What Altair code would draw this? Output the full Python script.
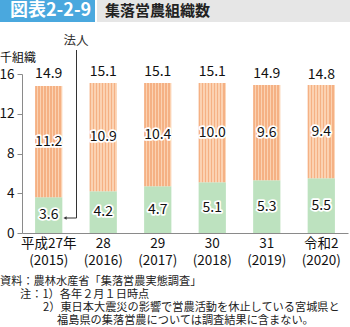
import altair as alt
import pandas as pd

years = ["平成27年|(2015)", "28|(2016)", "29|(2017)", "30|(2018)", "31|(2019)", "令和2|(2020)"]
houjin = [3.6, 4.2, 4.7, 5.1, 5.3, 5.5]
other = [11.2, 10.9, 10.4, 10.0, 9.6, 9.4]
totals = [14.9, 15.1, 15.1, 15.1, 14.9, 14.8]
y_ticks = [0, 4, 8, 12, 16]

FONT = "Noto Sans CJK JP"
ORANGE = "#f5b184"
ORANGE_L = "#fbd2b2"
GREEN = "#bde2bf"

rows = []
for i, y in enumerate(years):
    rows.append({"year": y, "cat": "法人", "value": houjin[i], "order": 0})
    rows.append({"year": y, "cat": "その他", "value": other[i], "order": 1})
df = pd.DataFrame(rows)
tot_df = pd.DataFrame({"year": years, "total": totals})
one = pd.DataFrame({"a": [0]})

# vertical stripes via a linear gradient
stops = []
n = 9
for k in range(n):
    a = k / n
    b = (k + 0.55) / n
    c = (k + 1) / n
    stops += [alt.GradientStop(offset=a, color=ORANGE), alt.GradientStop(offset=b, color=ORANGE),
              alt.GradientStop(offset=b, color=ORANGE_L), alt.GradientStop(offset=c, color=ORANGE_L)]
stripe = alt.Gradient(gradient="linear", stops=stops, x1=0, x2=1, y1=0, y2=0)

xscale = alt.Scale(domain=years, paddingInner=0.5, paddingOuter=0.24)
yscale = alt.Scale(domain=[0, 16], nice=False)

xaxis = alt.Axis(title=None, labelExpr="split(datum.value, '|')", labelAngle=0,
                 ticks=False, domainColor="#8a8a8a", labelFont=FONT, labelFontSize=13.5,
                 labelColor="#111", labelPadding=3, labelLineHeight=17)
yaxis = alt.Axis(title=None, values=y_ticks, grid=False, domainColor="#8a8a8a",
                 tickColor="#8a8a8a", tickSize=5, labelFont=FONT, labelFontSize=13.5,
                 labelColor="#111", labelPadding=3, labelOverlap=False)

X = alt.X("year:N", scale=xscale, sort=years, axis=xaxis)

def Y(field):
    return alt.Y(field, scale=yscale, axis=yaxis)

base = alt.Chart(df).transform_stack(
    stack="value", groupby=["year"], as_=["y0", "y1"], sort=[alt.SortField("order")]
).transform_calculate(mid="(datum.y0 + datum.y1) / 2")

bars_g = base.transform_filter("datum.cat == '法人'").mark_bar(fill=GREEN).encode(
    x=X, y=Y("y0:Q"), y2="y1:Q",
)
bars_o = base.transform_filter("datum.cat == 'その他'").mark_bar(fill=stripe).encode(
    x=X, y=Y("y0:Q"), y2="y1:Q"
)

halo = base.mark_text(font=FONT, fontSize=14, stroke="white", strokeWidth=3.5,
                      strokeJoin="round", fill="white").encode(
    x=X, y=Y("mid:Q"), text=alt.Text("value:Q", format=".1f"))
lab = base.mark_text(font=FONT, fontSize=14, color="#111").encode(
    x=X, y=Y("mid:Q"), text=alt.Text("value:Q", format=".1f"))

tot = alt.Chart(tot_df).mark_text(font=FONT, fontSize=14, color="#111", dy=-11).encode(
    x=X, y=Y("total:Q"), text=alt.Text("total:Q", format=".1f"))

# header
hdr_blue = alt.Chart(one).mark_rect(color="#4aa8de").encode(
    x=alt.value(-22), x2=alt.value(73), y=alt.value(-74), y2=alt.value(-52))
hdr_gray = alt.Chart(one).mark_rect(color="#e6e6e6").encode(
    x=alt.value(75), x2=alt.value(330), y=alt.value(-74), y2=alt.value(-52))
hdr_t1 = alt.Chart(one).mark_text(text="図表2-2-9", font=FONT, fontSize=18, fontWeight="bold",
                                  color="white", align="left", baseline="middle").encode(
    x=alt.value(-12), y=alt.value(-63))
hdr_t2 = alt.Chart(one).mark_text(text="集落営農組織数", font=FONT, fontSize=15, fontWeight="bold",
                                  color="#222", align="left", baseline="middle").encode(
    x=alt.value(83), y=alt.value(-63))

unit = alt.Chart(one).mark_text(text="千組織", font=FONT, fontSize=12, color="#111",
                                align="left", baseline="middle").encode(
    x=alt.value(-22), y=alt.value(-16))

# 法人 annotation
houjin_t = alt.Chart(one).mark_text(text="法人", font=FONT, fontSize=12.5, color="#333",
                                    align="center", baseline="middle").encode(
    x=alt.value(54), y=alt.value(-33))
vline = alt.Chart(one).mark_rule(color="#333", strokeWidth=1).encode(
    x=alt.value(54.5), y=alt.value(-24), y2=alt.value(144))
hline = alt.Chart(one).mark_rule(color="#333", strokeWidth=1).encode(
    x=alt.value(44), x2=alt.value(54.5), y=alt.value(144))
arrow = alt.Chart(one).mark_point(shape="triangle-left", filled=True, color="#333", size=14,
                                  opacity=1).encode(x=alt.value(43), y=alt.value(144))

# notes
def note(t, x, y):
    return alt.Chart(one).mark_text(text=t, font=FONT, fontSize=11.2, color="#222",
                                    align="left", baseline="middle").encode(
        x=alt.value(x), y=alt.value(y))

notes = [
    note("資料：農林水産省「集落営農実態調査」", -22, 208),
    note("注：1）各年２月１日時点", -2, 221),
    note("2）東日本大震災の影響で営農活動を休止している宮城県と", 21, 234),
    note("福島県の集落営農については調査結果に含まない。", 35, 247),
]

chart = alt.layer(
    hdr_blue, hdr_gray, hdr_t1, hdr_t2, unit,
    bars_g, bars_o, vline, hline, arrow, houjin_t, halo, lab, tot, *notes
).properties(
    width=326, height=159,
    padding={"left": 22, "top": 74, "right": 2, "bottom": 94},
    autosize=alt.AutoSizeParams(type="none"),
).configure_view(stroke=None).configure_axis(grid=False)

chart.save("out.html", embed_options={"renderer": "svg", "actions": False})
